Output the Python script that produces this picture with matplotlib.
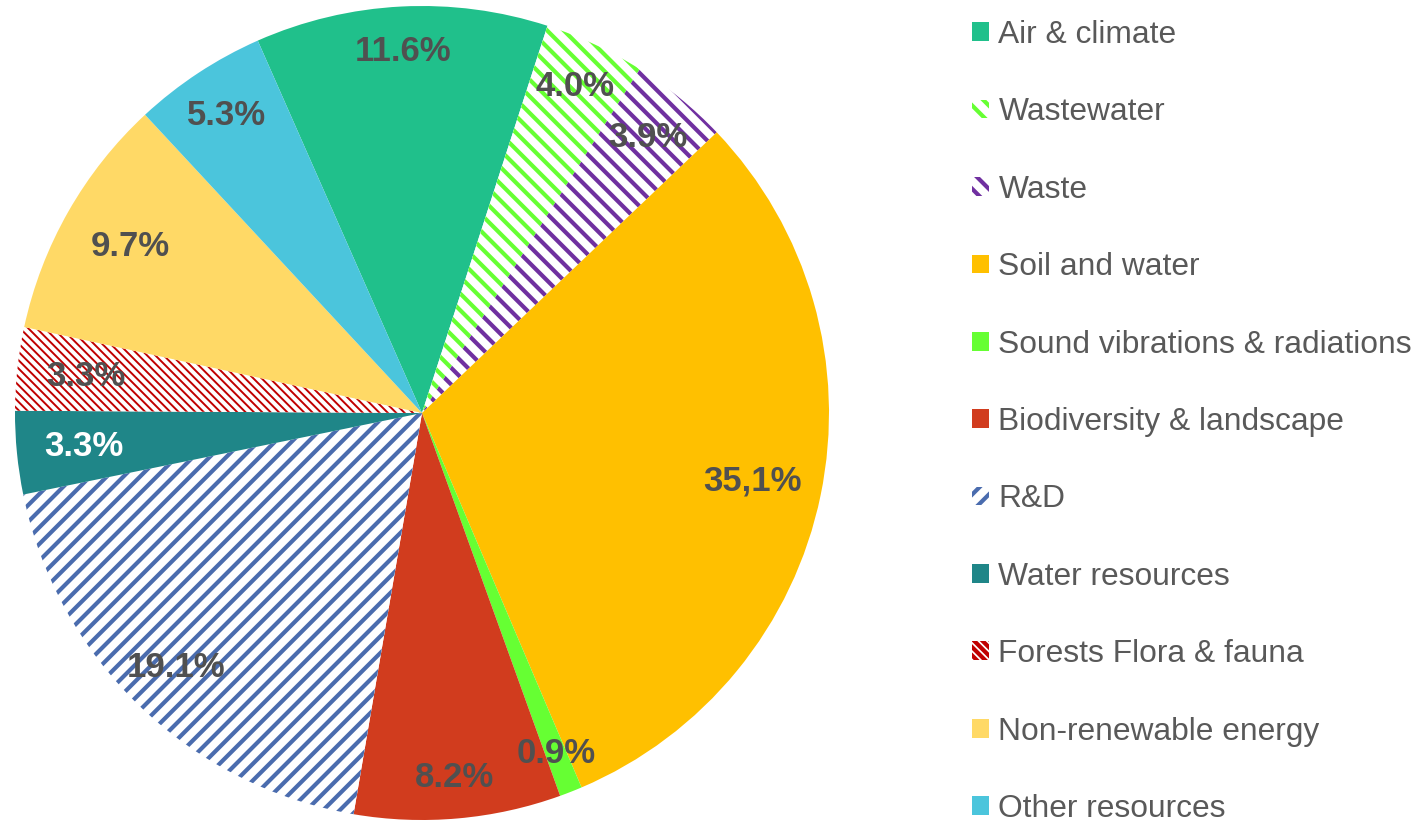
import matplotlib.pyplot as plt
import numpy as np

plt.rcParams['font.family'] = ['Liberation Sans', 'DejaVu Sans']
plt.rcParams['hatch.linewidth'] = 3.0

# categories and shares (%)
categories = [
    "Air & climate", "Wastewater", "Waste", "Soil and water",
    "Sound vibrations & radiations", "Biodiversity & landscape", "R&D",
    "Water resources", "Forests Flora & fauna", "Non-renewable energy",
    "Other resources"
]
shares = [11.6, 4.0, 3.9, 30.7, 0.9, 8.2, 19.1, 3.3, 3.3, 9.7, 5.3]
label_texts = ["11.6%", "4.0%", "3.9%", "35,1%", "0.9%", "8.2%",
               "19.1%", "3.3%", "3.3%", "9.7%", "5.3%"]

colors = ['#20C08B', '#66FF33', '#7030A0', '#FFC000', '#66FF33', '#D13C1E',
          '#4A6CAE', '#1F8688', '#C00000', '#FFD966', '#4BC5DC']
hatches = [None, '\\\\', '\\\\', None, None, None, '//', None, '\\\\\\\\', None, None]
hatch_lw = [None, 3.0, 3.0, None, None, None, 3.0, None, 1.4, None, None]
label_r = [0.89, 0.885, 0.875, 0.83, 0.9, 0.9, 0.87, 0.835, 0.83, 0.826, 0.875]
label_colors = ['#505050'] * 11
label_colors[7] = 'white'

fig = plt.figure(figsize=(14.2, 8.22), dpi=100)
ax = fig.add_axes([15 / 1420, 2 / 822, 814 / 1420, 814 / 822])

wedges, _ = ax.pie(shares, colors=colors, startangle=113.8, counterclock=False,
                   wedgeprops=dict(linewidth=0))
for w, c, h, lw in zip(wedges, colors, hatches, hatch_lw):
    if h:
        w.set_facecolor('white')
        w.set_edgecolor(c)
        w.set_hatch(h)
        if hasattr(w, 'set_hatch_linewidth'):
            w.set_hatch_linewidth(lw)

for w, txt, r, tc in zip(wedges, label_texts, label_r, label_colors):
    mid = np.deg2rad((w.theta1 + w.theta2) / 2)
    ax.text(r * np.cos(mid), r * np.sin(mid), txt, ha='center', va='center',
            fontsize=25, fontweight='bold', color=tc)

ax.set_xlim(-1, 1)
ax.set_ylim(-1, 1)

leg = fig.legend(wedges, categories, loc='upper left',
                 bbox_to_anchor=(972 / 1420, 1 - 20 / 822),
                 frameon=False, fontsize=22.9, labelcolor='#595959',
                 handlelength=0.53, handleheight=0.53, handletextpad=0.3,
                 labelspacing=1.49, borderpad=0, borderaxespad=0)

plt.savefig("out.png", dpi=100)
